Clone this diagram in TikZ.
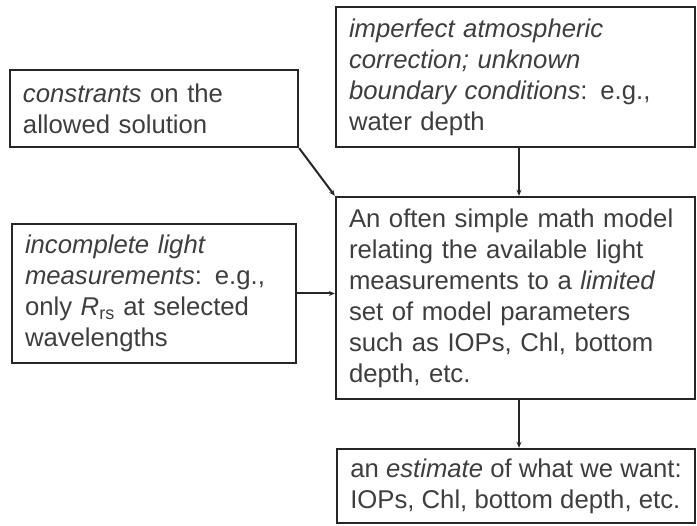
\documentclass[tikz,border=0pt]{standalone}
\usepackage{fontspec}
\setmainfont{Liberation Sans}
\usetikzlibrary{arrows.meta}
\definecolor{inkgray}{RGB}{62,62,62}
\definecolor{framegray}{RGB}{38,38,38}
\begin{document}
\begin{tikzpicture}[x=1pt,y=-1pt,
  infobox/.style={draw=framegray, line width=2.4pt, fill=white,
    text=inkgray, align=left, inner xsep=13pt, inner ysep=0pt,
    font=\fontsize{25.7}{31}\selectfont},
  arr/.style={draw=framegray, line width=2pt,
    -{Stealth[length=6pt,width=5pt]}}]
  \useasboundingbox[fill=white] (0,0) rectangle (697,526);

  % left column
  \node[infobox, text width=262pt, minimum height=77pt] (cons) at (154,108.5)
    {\textit{constrants} on the\\allowed solution};
  \node[infobox, text width=258pt, minimum height=139pt] (meas) at (154,293.5)
    {\textit{incomplete light}\\\textit{measurements}: e.g.,\\only \textit{R}\textsubscript{rs} at selected\\wavelengths};

  % right column
  \node[infobox, text width=333pt, minimum height=140pt] (atmo) at (515.5,77)
    {\textit{imperfect atmospheric}\\\textit{correction; unknown}\\\textit{boundary conditions}: e.g.,\\water depth};
  \node[infobox, text width=333pt, minimum height=202pt] (model) at (515.5,298)
    {An often simple math model\\relating the available light\\measurements to a \textit{limited}\\set of model parameters\\such as IOPs, Chl, bottom\\depth, etc.};
  % the two lines nearly fill this box, so it is sized by minimum width
  \node[infobox, inner xsep=0pt, minimum width=358pt, minimum height=74pt] (est) at (516,486)
    {an \textit{estimate} of what we want:\\IOPs, Chl, bottom depth, etc.};

  % connectors
  \draw[arr] (cons.south east) -- (model.north west);
  \draw[arr] ([xshift=3.5pt]atmo.south) -- ([xshift=3.5pt]model.north);
  \draw[arr] (meas.east) -- (meas.east -| model.west);
  \draw[arr] ([xshift=3.5pt]model.south) -- ([xshift=3pt]est.north);
\end{tikzpicture}
\end{document}
